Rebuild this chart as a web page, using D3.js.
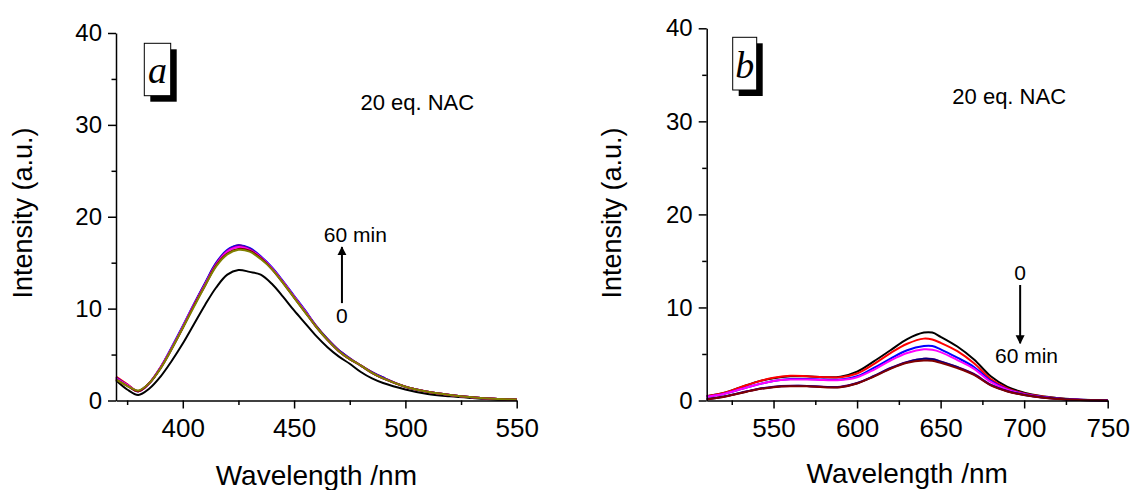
<!DOCTYPE html>
<html>
<head>
<meta charset="utf-8">
<script src="https://cdn.jsdelivr.net/npm/d3@7"></script>
<style>
  body { margin: 0; background: #fff; }
  svg text { font-family: "Liberation Sans", Arial, sans-serif; fill: #000; }
</style>
</head>
<body>
<svg id="chart" width="1132" height="490"></svg>
<script>
// Panel a: emission 370-550 nm, 0 to 60 min after 20 eq. NAC
const waveA = [370, 375, 380, 385, 390, 395, 400, 405, 410, 415, 420, 425, 430, 435, 440, 445, 450, 455, 460, 465, 470, 475, 480, 485, 490, 500, 510, 520, 530, 540, 550];
const a0min   = [2.2, 1.2, 0.6, 1.3, 2.6, 4.3, 6.2, 8.3, 10.4, 12.3, 13.7, 14.2, 14.0, 13.7, 12.7, 11.3, 9.8, 8.4, 7.0, 5.8, 4.8, 4.0, 3.1, 2.4, 1.9, 1.2, 0.7, 0.45, 0.27, 0.12, 0.05];
const aRed    = [2.6, 1.8, 1.0, 1.9, 3.6, 5.7, 8.0, 10.4, 12.7, 14.9, 16.3, 16.9, 16.5, 15.6, 14.4, 12.9, 11.3, 9.7, 8.1, 6.7, 5.5, 4.6, 3.8, 3.1, 2.5, 1.5, 0.95, 0.6, 0.35, 0.18, 0.1];
const aBlue   = [2.5, 1.7, 1.0, 1.9, 3.6, 5.8, 8.1, 10.5, 12.8, 15.0, 16.4, 16.9, 16.6, 15.7, 14.5, 13.0, 11.4, 9.8, 8.1, 6.7, 5.5, 4.6, 3.8, 3.1, 2.5, 1.5, 0.95, 0.6, 0.35, 0.18, 0.1];
const aPurple = [2.4, 1.7, 1.0, 1.9, 3.6, 5.7, 8.0, 10.4, 12.7, 14.9, 16.3, 16.8, 16.5, 15.6, 14.4, 12.9, 11.3, 9.7, 8.0, 6.6, 5.4, 4.5, 3.8, 3.0, 2.4, 1.5, 0.95, 0.6, 0.35, 0.18, 0.1];
const aMag    = [2.4, 1.7, 1.0, 1.9, 3.6, 5.7, 8.0, 10.4, 12.6, 14.8, 16.2, 16.7, 16.4, 15.6, 14.4, 12.9, 11.3, 9.7, 8.0, 6.6, 5.4, 4.5, 3.8, 3.0, 2.4, 1.5, 0.95, 0.6, 0.35, 0.18, 0.1];
const aWine   = [2.3, 1.6, 1.0, 1.9, 3.5, 5.6, 7.9, 10.3, 12.5, 14.7, 16.0, 16.5, 16.3, 15.5, 14.3, 12.8, 11.2, 9.6, 8.0, 6.6, 5.4, 4.5, 3.8, 3.0, 2.4, 1.5, 0.95, 0.6, 0.35, 0.18, 0.1];
const aOlive  = [2.3, 1.6, 1.1, 1.9, 3.5, 5.6, 7.9, 10.2, 12.5, 14.6, 15.9, 16.4, 16.2, 15.4, 14.3, 12.8, 11.2, 9.6, 8.0, 6.6, 5.4, 4.5, 3.8, 3.0, 2.4, 1.5, 0.95, 0.6, 0.35, 0.18, 0.1];

// Panel b: emission 510-750 nm
const waveB = [510, 520, 530, 540, 550, 560, 570, 580, 590, 600, 610, 620, 630, 640, 645, 650, 660, 670, 680, 690, 700, 710, 720, 730, 740, 750];
const b0min   = [0.45, 0.8, 1.4, 2.0, 2.4, 2.6, 2.6, 2.5, 2.55, 3.1, 4.2, 5.4, 6.6, 7.3, 7.3, 6.85, 5.8, 4.4, 2.6, 1.45, 0.85, 0.48, 0.28, 0.14, 0.05, 0.0];
const bRed    = [0.45, 0.8, 1.4, 2.0, 2.45, 2.65, 2.6, 2.5, 2.5, 2.9, 3.9, 5.1, 6.1, 6.65, 6.55, 6.2, 5.3, 4.0, 2.3, 1.3, 0.75, 0.45, 0.25, 0.12, 0.05, 0.0];
const bBlue   = [0.4, 0.7, 1.2, 1.7, 2.1, 2.3, 2.3, 2.25, 2.25, 2.6, 3.5, 4.5, 5.4, 5.85, 5.85, 5.5, 4.6, 3.6, 2.1, 1.2, 0.7, 0.4, 0.22, 0.1, 0.04, 0.0];
const bMag    = [0.4, 0.7, 1.2, 1.7, 2.1, 2.25, 2.25, 2.2, 2.2, 2.5, 3.3, 4.3, 5.1, 5.5, 5.45, 5.2, 4.35, 3.4, 2.0, 1.15, 0.68, 0.38, 0.2, 0.1, 0.04, 0.0];
const bPurple = [0.15, 0.42, 0.82, 1.22, 1.48, 1.58, 1.57, 1.47, 1.47, 1.88, 2.63, 3.5, 4.15, 4.5, 4.45, 4.2, 3.6, 2.85, 1.7, 1.02, 0.62, 0.36, 0.18, 0.08, 0.03, 0.0];
const bNavy   = [0.14, 0.41, 0.81, 1.21, 1.46, 1.56, 1.56, 1.46, 1.46, 1.86, 2.61, 3.47, 4.12, 4.48, 4.43, 4.18, 3.58, 2.82, 1.67, 1.0, 0.6, 0.35, 0.18, 0.08, 0.03, 0.0];
const bWine   = [0.12, 0.38, 0.78, 1.18, 1.43, 1.53, 1.52, 1.42, 1.42, 1.82, 2.56, 3.4, 4.05, 4.3, 4.28, 4.05, 3.48, 2.75, 1.62, 0.97, 0.58, 0.33, 0.17, 0.07, 0.03, 0.0];

const yTicks = [0, 10, 20, 30, 40];
const xTicksA = [400, 450, 500, 550];
const xTicksB = [550, 600, 650, 700, 750];

const panels = [
  {
    letter: "a", wave: waveA, xDomain: [370, 550], xRange: [116, 516.7], yRange: [400.5, 33],
    xTicks: xTicksA, xMinor: [375, 425, 475, 525],
    series: [
      { color: "#000000", values: a0min },
      { color: "#ff0000", values: aRed },
      { color: "#0000ff", values: aBlue },
      { color: "#800080", values: aPurple },
      { color: "#ff00ff", values: aMag },
      { color: "#800000", values: aWine },
      { color: "#808000", values: aOlive }
    ],
    box: { x: 144.3, y: 43.3, w: 26.4, h: 52.4, baseline: 82.7 },
    note: { x: 479.8, y: 31.6 },
    arrow: { x: 471.5, from: 10.6, to: 16.7 },
    startLabel: { text: "0", x: 471.5, y: 8.47 },
    endLabel: { text: "60 min", x: 477.5, y: 17.2 },
    yTitleX: 32, xTitleY: 485
  },
  {
    letter: "b", wave: waveB, xDomain: [510, 750], xRange: [706.7, 1107.7], yRange: [400.5, 28.3],
    xTicks: xTicksB, xMinor: [525, 575, 625, 675, 725],
    series: [
      { color: "#000000", values: b0min },
      { color: "#ff0000", values: bRed },
      { color: "#0000ff", values: bBlue },
      { color: "#ff00ff", values: bMag },
      { color: "#800080", values: bPurple },
      { color: "#000080", values: bNavy },
      { color: "#800000", values: bWine }
    ],
    box: { x: 732.7, y: 37.3, w: 24, h: 52.7, baseline: 78.3 },
    note: { x: 657, y: 31.9 },
    arrow: { x: 697.6, from: 12.41, to: 6.15 },
    startLabel: { text: "0", x: 697.6, y: 13.0 },
    endLabel: { text: "60 min", x: 701.4, y: 4.0 },
    yTitleX: 621, xTitleY: 483
  }
];

const svg = d3.select("#chart");

// Arrowhead marker shared by both panels
svg.append("defs").append("marker")
  .attr("id", "head")
  .attr("viewBox", "0 0 10 10")
  .attr("refX", 9).attr("refY", 5)
  .attr("markerWidth", 4.5).attr("markerHeight", 6)
  .attr("markerUnits", "strokeWidth")
  .attr("orient", "auto")
  .append("path")
  .attr("d", "M0,0 L10,5 L0,10 Z")
  .attr("fill", "#000");

panels.forEach(p => {
  const x = d3.scaleLinear().domain(p.xDomain).range(p.xRange);
  const y = d3.scaleLinear().domain([0, 40]).range(p.yRange);
  const g = svg.append("g");

  // Spectra
  const line = d3.line()
    .x((d, i) => x(p.wave[i]))
    .y(d => y(d))
    .curve(d3.curveCatmullRom.alpha(0.5));

  g.append("g")
    .selectAll("path")
    .data(p.series)
    .enter()
    .append("path")
      .attr("d", d => line(d.values))
      .attr("fill", "none")
      .attr("stroke", d => d.color)
      .attr("stroke-width", 2);

  // Minor ticks
  g.append("g")
    .attr("transform", `translate(0,${p.yRange[0]})`)
    .call(d3.axisBottom(x).tickValues(p.xMinor).tickSize(4.5).tickFormat("").tickSizeOuter(0))
    .call(a => a.select(".domain").remove());
  g.append("g")
    .attr("transform", `translate(${p.xRange[0]},0)`)
    .call(d3.axisLeft(y).tickValues([5, 15, 25, 35]).tickSize(4.5).tickFormat("").tickSizeOuter(0))
    .call(a => a.select(".domain").remove());

  // Main axes
  const xAxis = g.append("g")
    .attr("transform", `translate(0,${p.yRange[0]})`)
    .call(d3.axisBottom(x).tickValues(p.xTicks).tickSize(8).tickPadding(10).tickSizeOuter(0));
  xAxis.selectAll("text").attr("font-size", "26px");

  const yAxis = g.append("g")
    .attr("transform", `translate(${p.xRange[0]},0)`)
    .call(d3.axisLeft(y).tickValues(yTicks).tickSize(8).tickPadding(6).tickSizeOuter(0));
  yAxis.selectAll("text").attr("font-size", "24px");

  g.selectAll(".domain, .tick line").attr("stroke", "#000").attr("stroke-width", 1.5);
  g.selectAll(".tick text").attr("font-family", "Liberation Sans, Arial, sans-serif").attr("fill", "#000");

  // Axis titles
  g.append("text")
    .attr("x", (p.xRange[0] + p.xRange[1]) / 2)
    .attr("y", p.xTitleY)
    .attr("text-anchor", "middle")
    .attr("font-size", "28px")
    .text("Wavelength /nm");

  g.append("text")
    .attr("transform", `translate(${p.yTitleX},213) rotate(-90)`)
    .attr("text-anchor", "middle")
    .attr("font-size", "27px")
    .text("Intensity (a.u.)");

  // Panel letter in a shadowed box
  const b = p.box;
  g.append("rect")
    .attr("x", b.x + 6).attr("y", b.y + 6)
    .attr("width", b.w).attr("height", b.h)
    .attr("fill", "#000");
  g.append("rect")
    .attr("x", b.x).attr("y", b.y)
    .attr("width", b.w).attr("height", b.h)
    .attr("fill", "#fff").attr("stroke", "#000").attr("stroke-width", 1);
  g.append("text")
    .attr("x", b.x + b.w / 2).attr("y", b.baseline)
    .attr("text-anchor", "middle")
    .attr("font-size", "38px")
    .attr("font-style", "italic")
    .style("font-family", "'Liberation Serif', 'Times New Roman', serif")
    .text(p.letter);

  // Conditions note
  g.append("text")
    .attr("x", x(p.note.x)).attr("y", y(p.note.y))
    .attr("font-size", "22px")
    .text("20 eq. NAC");

  // Time arrow with labels
  g.append("line")
    .attr("x1", x(p.arrow.x)).attr("x2", x(p.arrow.x))
    .attr("y1", y(p.arrow.from)).attr("y2", y(p.arrow.to))
    .attr("stroke", "#000")
    .attr("stroke-width", 2)
    .attr("marker-end", "url(#head)");

  [p.startLabel, p.endLabel].forEach(l => {
    g.append("text")
      .attr("x", x(l.x)).attr("y", y(l.y))
      .attr("text-anchor", "middle")
      .attr("font-size", "21px")
      .text(l.text);
  });
});
</script>
</body>
</html>
